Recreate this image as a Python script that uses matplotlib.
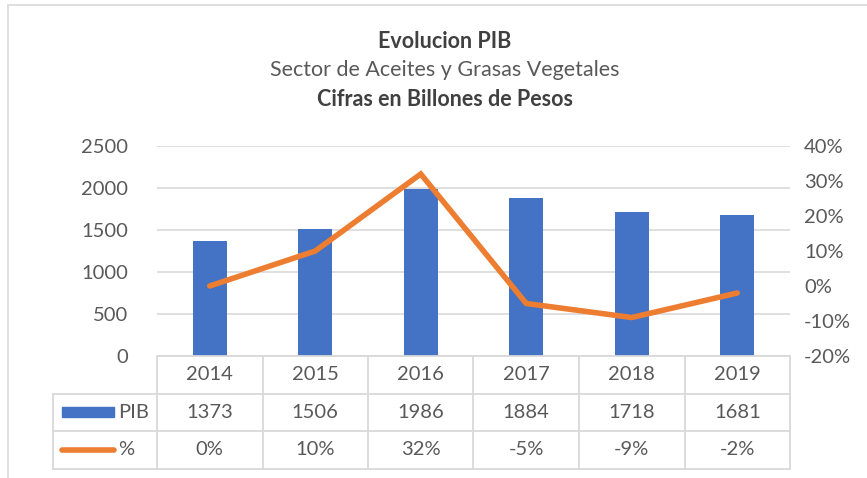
import numpy as np
import matplotlib.pyplot as plt
from matplotlib.patches import Rectangle
from matplotlib.lines import Line2D

plt.rcParams['font.family'] = ['Lato', 'DejaVu Sans']

years = ['2014', '2015', '2016', '2017', '2018', '2019']
pib = [1373, 1506, 1986, 1884, 1718, 1681]
pct = [0, 10, 32, -5, -9, -2]

blue = '#4472C4'
orange = '#ED7D31'
txt = '#595959'
grid = '#D9D9D9'
fs = 14.5

W, H = 867, 478
fig = plt.figure(figsize=(W / 100, H / 100), dpi=100)

# chart border
fig.patches.append(Rectangle((8 / W, -0.1), 1.1, 1 - 5 / H + 0.1, transform=fig.transFigure,
                             fill=False, edgecolor=grid, lw=1.2))

x0, x1 = 157, 790
ytop, ybot = 146, 356
ax = fig.add_axes([x0 / W, 1 - ybot / H, (x1 - x0) / W, (ybot - ytop) / H])
ax2 = ax.twinx()

x = np.arange(len(years))
ax.bar(x, pib, width=0.32, color=blue, zorder=2)
ax.set_xlim(-0.5, len(years) - 0.5)
ax.set_ylim(0, 2500)
ax.set_yticks(range(0, 2501, 500))
ax.yaxis.grid(True, color=grid, lw=1.2)
ax.set_axisbelow(True)
ax.set_xticks([])
ax.tick_params(axis='y', length=0, labelsize=fs, labelcolor=txt, pad=21)

ax2.plot(x, pct, color=orange, lw=4, solid_capstyle='round', solid_joinstyle='miter', zorder=3)
ax2.set_ylim(-20, 40)
ax2.set_yticks(range(-20, 41, 10))
ax2.set_yticklabels([f'{v}%' for v in range(-20, 41, 10)])
ax2.tick_params(axis='y', length=0, labelsize=fs, labelcolor=txt, pad=10)

for a in (ax, ax2):
    for s in a.spines.values():
        s.set_visible(False)

# data table
row_h = 37.5
legend_x = 53
tf = fig.transFigure
def fx(px):
    return px / W
def fy(py):
    return 1 - py / H

rows_y = [ybot, ybot + row_h, ybot + 2 * row_h, ybot + 3 * row_h]
colw = (x1 - x0) / len(years)
kw = dict(transform=tf, color=grid, lw=1.3)
# horizontal lines
fig.add_artist(Line2D([fx(x0), fx(x1)], [fy(rows_y[0])] * 2, **kw))
for ry in rows_y[1:]:
    fig.add_artist(Line2D([fx(legend_x), fx(x1)], [fy(ry)] * 2, **kw))
# vertical lines
for i in range(len(years) + 1):
    xp = x0 + i * colw
    fig.add_artist(Line2D([fx(xp)] * 2, [fy(rows_y[0]), fy(rows_y[3])], **kw))
fig.add_artist(Line2D([fx(legend_x)] * 2, [fy(rows_y[1]), fy(rows_y[3])], **kw))

for i, yr in enumerate(years):
    cx = fx(x0 + (i + 0.5) * colw)
    fig.text(cx, fy(rows_y[0] + row_h / 2), yr, ha='center', va='center', fontsize=fs, color=txt)
    fig.text(cx, fy(rows_y[1] + row_h / 2), str(pib[i]), ha='center', va='center', fontsize=fs, color=txt)
    fig.text(cx, fy(rows_y[2] + row_h / 2), f'{pct[i]}%', ha='center', va='center', fontsize=fs, color=txt)

# legend keys
fig.patches.append(Rectangle((fx(62), fy(rows_y[1] + row_h / 2 + 5)), (114 - 62) / W, 10 / H,
                             transform=tf, color=blue))
fig.text(fx(118), fy(rows_y[1] + row_h / 2), 'PIB', ha='left', va='center', fontsize=fs, color=txt)
fig.add_artist(Line2D([fx(62), fx(114)], [fy(rows_y[2] + row_h / 2)] * 2, transform=tf,
                      color=orange, lw=4, solid_capstyle='round'))
fig.text(fx(118), fy(rows_y[2] + row_h / 2), '%', ha='left', va='center', fontsize=fs, color=txt)

# titles
fig.text(fx(445), fy(42), 'Evolucion PIB', ha='center', va='center', fontsize=15.5,
         fontweight='bold', color='#404040')
fig.text(fx(445), fy(70), 'Sector de Aceites y Grasas Vegetales', ha='center', va='center',
         fontsize=15.5, color=txt)
fig.text(fx(445), fy(100), 'Cifras en Billones de Pesos', ha='center', va='center', fontsize=15.5,
         fontweight='bold', color='#404040')

fig.savefig('out.png', dpi=100)
